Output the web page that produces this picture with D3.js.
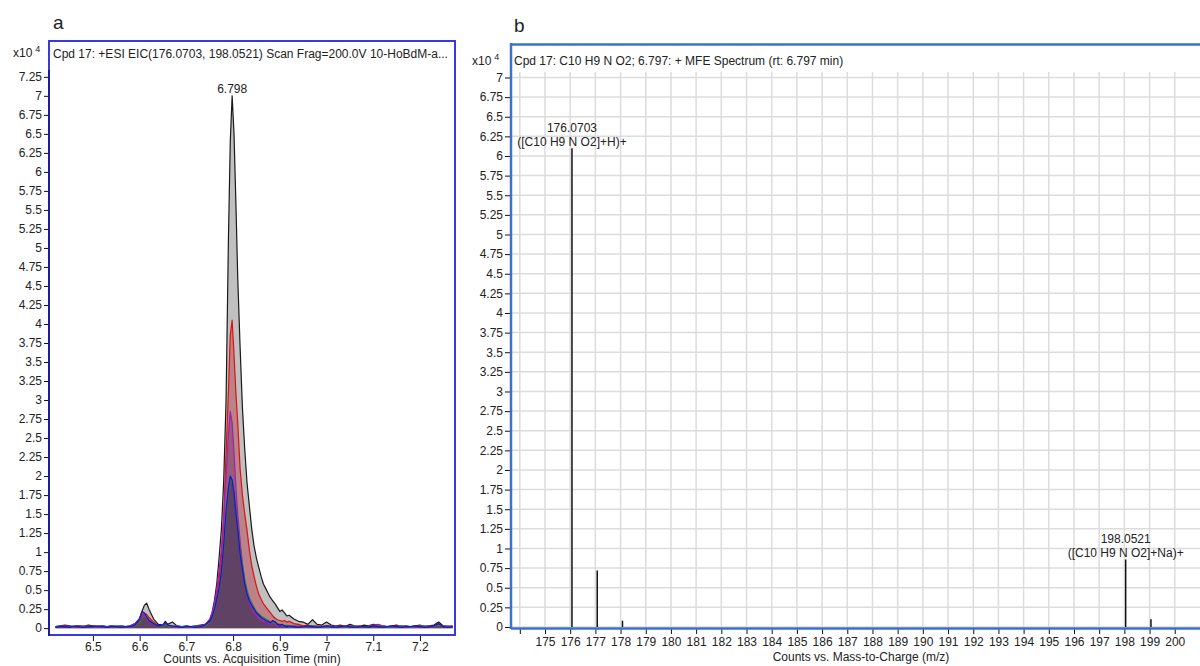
<!DOCTYPE html>
<html>
<head>
<meta charset="utf-8">
<script src="https://cdn.jsdelivr.net/npm/d3@7"></script>
<style>
  body { margin: 0; background: #fff; }
  svg { display: block; font-family: "Liberation Sans", Arial, sans-serif; }
</style>
</head>
<body>
<svg id="chart" width="1200" height="666"></svg>
<script>
// ---- panel a: extracted ion chromatograms (counts x10^4 vs. time in min)
const times = [
  6.42, 6.43, 6.44, 6.45, 6.46, 6.47, 6.48, 6.49, 6.50, 6.51,
  6.52, 6.53, 6.54, 6.55, 6.56, 6.57, 6.58, 6.59, 6.60, 6.605,
  6.61, 6.615, 6.62, 6.63, 6.64, 6.65, 6.655, 6.66, 6.67, 6.68,
  6.69, 6.70, 6.71, 6.72, 6.73, 6.74, 6.75, 6.755, 6.76, 6.765,
  6.77, 6.775, 6.78, 6.785, 6.79, 6.794, 6.798, 6.802, 6.806, 6.81,
  6.815, 6.82, 6.825, 6.83, 6.835, 6.84, 6.845, 6.85, 6.855, 6.86,
  6.865, 6.87, 6.875, 6.88, 6.885, 6.89, 6.895, 6.90, 6.905, 6.91,
  6.915, 6.92, 6.93, 6.94, 6.95, 6.96, 6.97, 6.98, 6.99, 7.00,
  7.01, 7.02, 7.03, 7.04, 7.05, 7.06, 7.07, 7.08, 7.09, 7.10,
  7.11, 7.12, 7.13, 7.14, 7.15, 7.16, 7.17, 7.18, 7.19, 7.20,
  7.21, 7.22, 7.23, 7.24, 7.25, 7.26, 7.27
];
const eicBlack = [
  0.02, 0.03, 0.04, 0.03, 0.02, 0.03, 0.02, 0.04, 0.03, 0.02,
  0.03, 0.02, 0.03, 0.02, 0.03, 0.02, 0.03, 0.06, 0.13, 0.22,
  0.30, 0.33, 0.25, 0.12, 0.05, 0.04, 0.09, 0.05, 0.08, 0.03,
  0.02, 0.03, 0.02, 0.03, 0.04, 0.05, 0.10, 0.20, 0.36, 0.58,
  0.92, 1.30, 1.95, 3.00, 5.10, 6.40, 7.00, 6.50, 5.60, 4.60,
  3.70, 2.90, 2.35, 1.90, 1.60, 1.30, 1.08, 0.92, 0.80, 0.68,
  0.58, 0.52, 0.46, 0.40, 0.36, 0.32, 0.27, 0.22, 0.24, 0.20,
  0.16, 0.17, 0.12, 0.09, 0.08, 0.05, 0.11, 0.05, 0.04, 0.08,
  0.04, 0.03, 0.04, 0.02, 0.05, 0.03, 0.02, 0.04, 0.03, 0.05,
  0.04, 0.03, 0.02, 0.03, 0.04, 0.02, 0.03, 0.02, 0.03, 0.04,
  0.02, 0.03, 0.04, 0.08, 0.03, 0.02, 0.03
];
const eicRed = [
  0.01, 0.02, 0.03, 0.02, 0.01, 0.02, 0.03, 0.02, 0.01, 0.02,
  0.02, 0.01, 0.02, 0.03, 0.02, 0.01, 0.02, 0.05, 0.11, 0.17,
  0.20, 0.18, 0.14, 0.08, 0.03, 0.02, 0.05, 0.03, 0.02, 0.01,
  0.02, 0.01, 0.02, 0.02, 0.03, 0.04, 0.08, 0.15, 0.25, 0.42,
  0.65, 0.95, 1.45, 2.30, 3.10, 3.85, 4.05, 3.60, 3.10, 2.70,
  2.10, 1.75, 1.50, 1.28, 1.02, 0.82, 0.68, 0.55, 0.45, 0.38,
  0.32, 0.28, 0.24, 0.20, 0.16, 0.13, 0.11, 0.10, 0.09, 0.10,
  0.08, 0.09, 0.06, 0.05, 0.03, 0.04, 0.02, 0.03, 0.02, 0.03,
  0.02, 0.01, 0.03, 0.02, 0.01, 0.02, 0.03, 0.02, 0.01, 0.02,
  0.03, 0.02, 0.01, 0.02, 0.03, 0.02, 0.01, 0.02, 0.02, 0.03,
  0.02, 0.01, 0.02, 0.04, 0.02, 0.01, 0.02
];
const eicPurple = [
  0.02, 0.01, 0.03, 0.02, 0.02, 0.03, 0.01, 0.02, 0.03, 0.02,
  0.01, 0.02, 0.03, 0.02, 0.01, 0.02, 0.03, 0.06, 0.12, 0.18,
  0.16, 0.12, 0.09, 0.05, 0.02, 0.03, 0.06, 0.03, 0.02, 0.01,
  0.02, 0.02, 0.01, 0.02, 0.03, 0.05, 0.12, 0.20, 0.32, 0.50,
  0.75, 1.05, 1.45, 2.00, 2.55, 2.85, 2.70, 2.30, 1.85, 1.50,
  1.15, 0.85, 0.62, 0.45, 0.33, 0.25, 0.20, 0.16, 0.12, 0.10,
  0.08, 0.09, 0.07, 0.05, 0.06, 0.04, 0.03, 0.04, 0.03, 0.02,
  0.03, 0.02, 0.02, 0.03, 0.01, 0.02, 0.03, 0.02, 0.01, 0.02,
  0.03, 0.02, 0.01, 0.02, 0.03, 0.02, 0.02, 0.01, 0.02, 0.04,
  0.05, 0.03, 0.02, 0.01, 0.02, 0.03, 0.02, 0.02, 0.01, 0.02,
  0.03, 0.02, 0.02, 0.05, 0.02, 0.03, 0.02
];
const eicBlue = [
  0.01, 0.02, 0.02, 0.01, 0.03, 0.02, 0.01, 0.02, 0.02, 0.03,
  0.02, 0.01, 0.02, 0.02, 0.01, 0.02, 0.02, 0.04, 0.12, 0.22,
  0.20, 0.15, 0.10, 0.06, 0.03, 0.04, 0.08, 0.04, 0.03, 0.02,
  0.01, 0.02, 0.02, 0.01, 0.02, 0.04, 0.09, 0.15, 0.24, 0.38,
  0.52, 0.75, 1.10, 1.55, 1.85, 2.00, 1.95, 1.78, 1.52, 1.30,
  0.98, 0.78, 0.58, 0.45, 0.36, 0.30, 0.25, 0.20, 0.17, 0.14,
  0.12, 0.10, 0.09, 0.07, 0.10, 0.08, 0.05, 0.04, 0.05, 0.03,
  0.02, 0.03, 0.02, 0.01, 0.02, 0.03, 0.02, 0.01, 0.02, 0.03,
  0.02, 0.01, 0.02, 0.03, 0.02, 0.01, 0.02, 0.02, 0.01, 0.03,
  0.02, 0.01, 0.02, 0.03, 0.02, 0.01, 0.02, 0.02, 0.03, 0.02,
  0.01, 0.02, 0.03, 0.06, 0.02, 0.01, 0.02
];
const eicGreen = [
  0.02, 0.03, 0.02, 0.01, 0.02, 0.03, 0.02, 0.03, 0.01, 0.02,
  0.03, 0.02, 0.01, 0.02, 0.03, 0.02, 0.01, 0.03, 0.08, 0.13,
  0.16, 0.14, 0.11, 0.06, 0.03, 0.02, 0.05, 0.03, 0.02, 0.03,
  0.02, 0.01, 0.02, 0.03, 0.02, 0.03, 0.07, 0.13, 0.22, 0.36,
  0.50, 0.72, 1.05, 1.48, 1.80, 1.95, 1.92, 1.80, 1.58, 1.36,
  1.05, 0.84, 0.64, 0.50, 0.40, 0.33, 0.27, 0.22, 0.19, 0.16,
  0.14, 0.12, 0.10, 0.08, 0.07, 0.09, 0.06, 0.05, 0.04, 0.03,
  0.04, 0.02, 0.03, 0.02, 0.01, 0.02, 0.03, 0.02, 0.02, 0.01,
  0.02, 0.03, 0.02, 0.01, 0.02, 0.03, 0.02, 0.01, 0.02, 0.02,
  0.03, 0.02, 0.01, 0.02, 0.02, 0.03, 0.02, 0.01, 0.02, 0.03,
  0.02, 0.03, 0.02, 0.04, 0.03, 0.02, 0.02
];
const apexTime = 6.798;
const apexLabel = "6.798";
const xTicksA = [6.5, 6.6, 6.7, 6.8, 6.9, 7, 7.1, 7.2];
const yTicksA = [0, 0.25, 0.5, 0.75, 1, 1.25, 1.5, 1.75, 2, 2.25, 2.5, 2.75, 3, 3.25, 3.5,
  3.75, 4, 4.25, 4.5, 4.75, 5, 5.25, 5.5, 5.75, 6, 6.25, 6.5, 6.75, 7, 7.25];

// ---- panel b: MFE spectrum (counts x10^4 vs. m/z)
const specMz = [176.0703, 177.0735, 178.0762, 198.0521, 199.0556];
const specCounts = [6.10, 0.72, 0.08, 0.86, 0.10];
const specLabels = [
  ["176.0703", "([C10 H9 N O2]+H)+"], null, null,
  ["198.0521", "([C10 H9 N O2]+Na)+"], null
];
const xTicksB = [174, 175, 176, 177, 178, 179, 180, 181, 182, 183, 184, 185, 186, 187,
  188, 189, 190, 191, 192, 193, 194, 195, 196, 197, 198, 199, 200];
const yTicksB = [0, 0.25, 0.5, 0.75, 1, 1.25, 1.5, 1.75, 2, 2.25, 2.5, 2.75, 3, 3.25, 3.5,
  3.75, 4, 4.25, 4.5, 4.75, 5, 5.25, 5.5, 5.75, 6, 6.25, 6.5, 6.75, 7];

const svg = d3.select("#chart");
const TXT = "#222";

function styleAxis(g) {
  g.select(".domain").remove();
  g.attr("font-family", null).attr("font-size", 12);
  g.selectAll(".tick line").attr("stroke", "#111");
  g.selectAll(".tick text").attr("fill", TXT);
}

function expLabel(x, y) {
  const t = svg.append("text").attr("x", x).attr("y", y).attr("font-size", 12).attr("fill", TXT);
  t.append("tspan").text("x10");
  t.append("tspan").attr("dx", 3).attr("dy", -5).attr("font-size", 9).text("4");
}

// ===================== panel a =====================
const xA = d3.scaleLinear().domain([6.406, 7.275]).range([49, 455]);
const yA = d3.scaleLinear().domain([-0.09, 7.34]).range([635, 70]);

svg.append("text").attr("x", 53).attr("y", 29).attr("font-size", 19).attr("fill", TXT).text("a");

svg.append("clipPath").attr("id", "clipA")
  .append("rect").attr("x", 50).attr("y", 70).attr("width", 404).attr("height", 565);

const plotA = svg.append("g").attr("clip-path", "url(#clipA)");

const traces = [
  {vals: eicBlack, stroke: "#1a1a1a", fill: "#c0c0c0"},
  {vals: eicRed, stroke: "#e01010", fill: "rgba(180,40,50,0.4)"},
  {vals: eicPurple, stroke: "#a020b0", fill: "rgba(100,40,100,0.4)"},
  {vals: eicBlue, stroke: "#1414dc", fill: "rgba(40,40,80,0.5)"},
  {vals: eicGreen, stroke: "#2a8040", fill: null}
];

const area = vals => d3.area()
  .x((d, i) => xA(times[i]))
  .y0(yA(0))
  .y1(d => yA(d))(vals);
const line = vals => d3.line()
  .x((d, i) => xA(times[i]))
  .y(d => yA(d))(vals);

// fills first, then outlines on top
for (const t of traces) {
  if (!t.fill) continue;
  plotA.append("path").attr("d", area(t.vals)).attr("fill", t.fill);
}
for (const t of [traces[0], traces[1], traces[2], traces[4], traces[3]]) {
  plotA.append("path").attr("d", line(t.vals))
    .attr("fill", "none").attr("stroke", t.stroke).attr("stroke-width", 1.2)
    .attr("stroke-linejoin", "round");
}

svg.append("text")
  .attr("x", xA(apexTime)).attr("y", yA(d3.max(eicBlack)) - 3)
  .attr("text-anchor", "middle").attr("font-size", 12).attr("fill", TXT)
  .text(apexLabel);

svg.append("g").attr("transform", "translate(49,0)")
  .call(d3.axisLeft(yA).tickValues(yTicksA).tickSize(5).tickPadding(2).tickFormat(d => String(d)))
  .call(styleAxis);

svg.append("g").attr("transform", "translate(0,636)")
  .call(d3.axisBottom(xA).tickValues(xTicksA).tickSize(5).tickPadding(1).tickFormat(d => String(d)))
  .call(styleAxis);

// frame
svg.append("rect").attr("x", 49).attr("y", 41).attr("width", 406).attr("height", 594)
  .attr("fill", "none").attr("stroke", "#3a3ad8").attr("stroke-width", 2);
svg.append("line").attr("x1", 49).attr("x2", 49).attr("y1", 70).attr("y2", 636)
  .attr("stroke", "#1c1c9c").attr("stroke-width", 2);

svg.append("text").attr("x", 53).attr("y", 58).attr("font-size", 12).attr("fill", TXT)
  .text("Cpd 17: +ESI EIC(176.0703, 198.0521) Scan Frag=200.0V 10-HoBdM-a...");
expLabel(13, 57);

svg.append("text").attr("x", 252).attr("y", 663).attr("text-anchor", "middle")
  .attr("font-size", 12).attr("fill", TXT).text("Counts vs. Acquisition Time (min)");

// ===================== panel b =====================
const xB = d3.scaleLinear().domain([173.65, 201.4]).range([511, 1210]);
const yB = d3.scaleLinear().domain([-0.013, 7.07]).range([628, 72]);

svg.append("text").attr("x", 514).attr("y", 32).attr("font-size", 19).attr("fill", TXT).text("b");

const gridB = svg.append("g").attr("stroke", "#dcdcdc").attr("stroke-width", 1.5);
gridB.selectAll("line.v").data(xTicksB).join("line").attr("class", "v")
  .attr("x1", d => xB(d)).attr("x2", d => xB(d)).attr("y1", 72).attr("y2", 628);
gridB.selectAll("line.h").data(yTicksB).join("line").attr("class", "h")
  .attr("x1", 511).attr("x2", 1200).attr("y1", d => yB(d)).attr("y2", d => yB(d));

svg.append("g").selectAll("line").data(specMz).join("line")
  .attr("x1", d => xB(d)).attr("x2", d => xB(d))
  .attr("y1", yB(0)).attr("y2", (d, i) => yB(specCounts[i]))
  .attr("stroke", "#111").attr("stroke-width", 1.5);

specLabels.forEach((lab, i) => {
  if (!lab) return;
  const x = xB(specMz[i]), top = yB(specCounts[i]);
  svg.append("text").attr("x", x).attr("y", top - 16).attr("text-anchor", "middle")
    .attr("font-size", 12).attr("fill", TXT).text(lab[0]);
  svg.append("text").attr("x", x).attr("y", top - 2).attr("text-anchor", "middle")
    .attr("font-size", 12).attr("fill", TXT).text(lab[1]);
});

svg.append("g").attr("transform", "translate(510,0)")
  .call(d3.axisLeft(yB).tickValues(yTicksB).tickSize(5).tickPadding(2).tickFormat(d => String(d)))
  .call(styleAxis);

svg.append("g").attr("transform", "translate(0,629)")
  .call(d3.axisBottom(xB).tickValues(xTicksB).tickSize(5).tickPadding(3)
    .tickFormat(d => d === xTicksB[0] ? "" : String(d)))
  .call(styleAxis);

const frameB = svg.append("g").attr("stroke", "#3d72c8").attr("stroke-width", 2.5);
frameB.append("line").attr("x1", 511).attr("x2", 1200).attr("y1", 44.5).attr("y2", 44.5);
frameB.append("line").attr("x1", 511).attr("x2", 511).attr("y1", 43).attr("y2", 629);
frameB.append("line").attr("x1", 511).attr("x2", 1200).attr("y1", 628.5).attr("y2", 628.5);

svg.append("text").attr("x", 514).attr("y", 65).attr("font-size", 12).attr("fill", TXT)
  .text("Cpd 17: C10 H9 N O2; 6.797: + MFE Spectrum (rt: 6.797 min)");
expLabel(472, 65);

svg.append("text").attr("x", 861).attr("y", 661).attr("text-anchor", "middle")
  .attr("font-size", 12).attr("fill", TXT).text("Counts vs. Mass-to-Charge (m/z)");
</script>
</body>
</html>
